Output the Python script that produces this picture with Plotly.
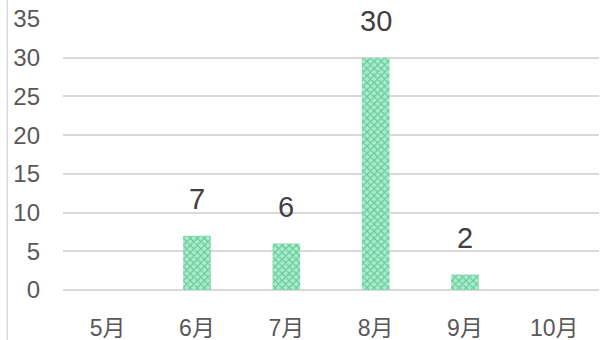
import plotly.graph_objects as go

months = ["5月", "6月", "7月", "8月", "9月", "10月"]
values = [0, 7, 6, 30, 2, 0]
labels = ["", "7", "6", "30", "2", ""]
y_ticks = [0, 5, 10, 15, 20, 25, 30, 35]

FONT = "Liberation Sans, Arial, Noto Sans CJK SC"
TICKFONT = "Liberation Sans, Arial, Noto Sans CJK SC"

fig = go.Figure(go.Bar(
    x=months, y=values,
    marker=dict(color="#a6eecb", line=dict(width=0),
                pattern=dict(shape="x", fgcolor="#2f9c69", bgcolor="#a6eecb", size=5, solidity=0.4)),
    width=0.31,
))

for m, v, t in zip(months, values, labels):
    if t:
        fig.add_annotation(x=m, y=v, text=t, showarrow=False, yanchor="middle", yshift=37,
                           font=dict(size=29, color="#404040", family=FONT))

fig.update_layout(
    width=602, height=340,
    margin=dict(l=63, r=3, t=19, b=50, autoexpand=False),
    paper_bgcolor="white", plot_bgcolor="white",
    showlegend=False,
    font=dict(family=FONT, color="#595959", size=24),
    xaxis=dict(showgrid=False, showline=False, ticks="", ticklabelstandoff=22, automargin=False,
               tickfont=dict(size=23, color="#595959", family=TICKFONT)),
    yaxis=dict(range=[0, 35], tickvals=y_ticks, showgrid=True, gridcolor="#d9d9d9", gridwidth=1.5,
               zeroline=True, zerolinecolor="#d9d9d9", zerolinewidth=1.5, automargin=False,
               showline=False, ticks="", ticklabelstandoff=22,
               tickfont=dict(size=24, color="#595959", family=TICKFONT)),
    shapes=[dict(type="line", xref="paper", yref="paper", x0=-0.104, x1=-0.104, y0=-0.2, y1=1.1,
                 line=dict(color="#d9d9d9", width=1.5))],
)

fig.write_html("out.html")
